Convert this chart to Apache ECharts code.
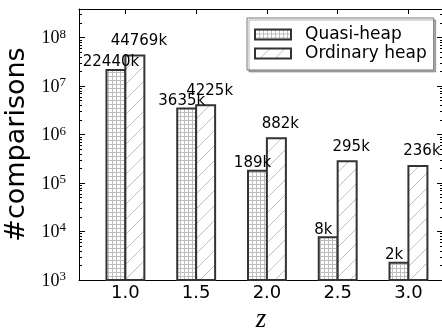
<!DOCTYPE html>
<html><head><meta charset="utf-8">
<script src="https://cdn.jsdelivr.net/npm/echarts@6/dist/echarts.min.js"></script>
<style>html,body{margin:0;padding:0;background:#fff}#c{width:442px;height:331px}</style>
</head><body><div id="c"></div>
<script>
const categories = [1.0, 1.5, 2.0, 2.5, 3.0];
const seriesNames = ['Quasi-heap', 'Ordinary heap'];
const quasiValues = [22440000, 3635000, 189000, 8000, 2380];
const ordinaryValues = [44769000, 4225000, 882000, 295000, 236000];
const quasiLabels = ['22440k', '3635k', '189k', '8k', '2k'];
const ordinaryLabels = ['44769k', '4225k', '882k', '295k', '236k'];
const yTickValues = [1e3, 1e4, 1e5, 1e6, 1e7, 1e8];
const yMin = 1000, yMax = 3.9e8;
const xMin = 0.672, xMax = 3.244;

const minorTicks = [];
for (let e = 3; e <= 8; e++) for (let k = 2; k <= 9; k++) { const v = k * Math.pow(10, e); if (v <= yMax) minorTicks.push(v); }

function makeGrid() {
  const c = document.createElement('canvas'); c.width = 4; c.height = 4;
  const g = c.getContext('2d');
  g.fillStyle = '#fff'; g.fillRect(0, 0, 4, 4);
  g.fillStyle = '#bdbdbd'; g.fillRect(0, 0, 4, 1); g.fillRect(0, 0, 1, 4);
  return c;
}
function makeDiag() {
  const s = 15;
  const c = document.createElement('canvas'); c.width = s; c.height = s;
  const g = c.getContext('2d');
  g.fillStyle = '#fff'; g.fillRect(0, 0, s, s);
  g.strokeStyle = '#c0c0c0'; g.lineWidth = 1;
  g.beginPath();
  g.moveTo(-1, s + 1); g.lineTo(s + 1, -1);
  g.moveTo(-1, 1); g.lineTo(1, -1);
  g.moveTo(s - 1, s + 1); g.lineTo(s + 1, s - 1);
  g.stroke();
  return c;
}

const chart = echarts.init(document.getElementById('c'), null, {renderer: 'canvas'});
const black = {color: '#000', width: 1};
const labelBase = {show: true, position: 'top', fontSize: 15, fontFamily: 'DejaVu Sans', color: '#000'};

const yAxisCommon = {type: 'log', min: yMin, max: yMax, splitLine: {show: false}};
chart.setOption({
  animation: false,
  backgroundColor: '#fff',
  grid: {left: 79, right: -1, top: 9, bottom: 51, containLabel: false, outerBoundsMode: 'none'},
  legend: {
    data: seriesNames, orient: 'vertical', left: 247, top: 18, padding: [8, 7, 8, 7],
    itemWidth: 36, itemHeight: 10, itemGap: 2, icon: 'rect',
    textStyle: {fontSize: 17, fontFamily: 'DejaVu Sans', color: '#000', padding: [0, 0, 0, 9]},
    backgroundColor: '#fff', borderColor: '#777', borderWidth: 1, borderRadius: 0,
    shadowColor: 'rgba(0,0,0,0.3)', shadowOffsetX: 2, shadowOffsetY: 2, shadowBlur: 0
  },
  xAxis: [
    {type: 'value', min: xMin, max: xMax, position: 'bottom',
     axisLine: {lineStyle: black}, splitLine: {show: false},
     axisTick: {inside: true, length: 5, customValues: categories, lineStyle: black},
     axisLabel: {customValues: categories, formatter: v => v.toFixed(1), fontSize: 18, fontFamily: 'DejaVu Sans', color: '#000', margin: 4},
     name: 'z', nameLocation: 'middle', nameGap: 26,
     nameTextStyle: {fontFamily: 'Liberation Serif', fontStyle: 'italic', fontSize: 27, color: '#000'}},
    {type: 'value', min: xMin, max: xMax, position: 'top',
     axisLine: {lineStyle: black}, splitLine: {show: false},
     axisTick: {inside: true, length: 5, customValues: categories, lineStyle: black},
     axisLabel: {show: false}}
  ],
  yAxis: [
    Object.assign({}, yAxisCommon, {position: 'left',
      axisLine: {show: true, lineStyle: black},
      axisTick: {show: true, inside: true, length: 6, customValues: yTickValues, lineStyle: black},
      axisLabel: {customValues: yTickValues, margin: 13,
        formatter: v => '{b|10}{e|' + Math.round(Math.log10(v)) + '}',
        rich: {
          b: {fontSize: 18, fontFamily: 'Liberation Serif', color: '#000', verticalAlign: 'bottom', lineHeight: 20},
          e: {fontSize: 13, fontFamily: 'Liberation Serif', color: '#000', verticalAlign: 'top', lineHeight: 20}
        }},
      name: '#comparisons', nameLocation: 'middle', nameGap: 34,
      nameTextStyle: {fontSize: 27, fontFamily: 'DejaVu Sans', color: '#000'}}),
    Object.assign({}, yAxisCommon, {position: 'left',
      axisLine: {show: false},
      axisTick: {show: true, inside: true, length: 3, customValues: minorTicks, lineStyle: black},
      axisLabel: {show: false}}),
    Object.assign({}, yAxisCommon, {position: 'right',
      axisLine: {show: true, lineStyle: black},
      axisTick: {show: true, inside: true, length: 6, customValues: yTickValues, lineStyle: black},
      axisLabel: {show: false}}),
    Object.assign({}, yAxisCommon, {position: 'right',
      axisLine: {show: false},
      axisTick: {show: true, inside: true, length: 3, customValues: minorTicks, lineStyle: black},
      axisLabel: {show: false}})
  ],
  series: [
    {name: seriesNames[0], type: 'bar', xAxisIndex: 0, yAxisIndex: 0, barWidth: 21, barGap: '-10%',
     data: categories.map((c, i) => [c, quasiValues[i]]),
     itemStyle: {color: {image: makeGrid(), repeat: 'repeat'}, borderColor: '#333', borderWidth: 2},
     label: Object.assign({}, labelBase, {distance: -1, offset: [-5, 0], formatter: p => quasiLabels[p.dataIndex]})},
    {name: seriesNames[1], type: 'bar', xAxisIndex: 0, yAxisIndex: 0, barWidth: 21, barGap: '-10%',
     data: categories.map((c, i) => [c, ordinaryValues[i]]),
     itemStyle: {color: {image: makeDiag(), repeat: 'repeat'}, borderColor: '#333', borderWidth: 2},
     label: Object.assign({}, labelBase, {distance: 6, offset: [4, 0], formatter: p => ordinaryLabels[p.dataIndex]})}
  ]
});
</script></body></html>
